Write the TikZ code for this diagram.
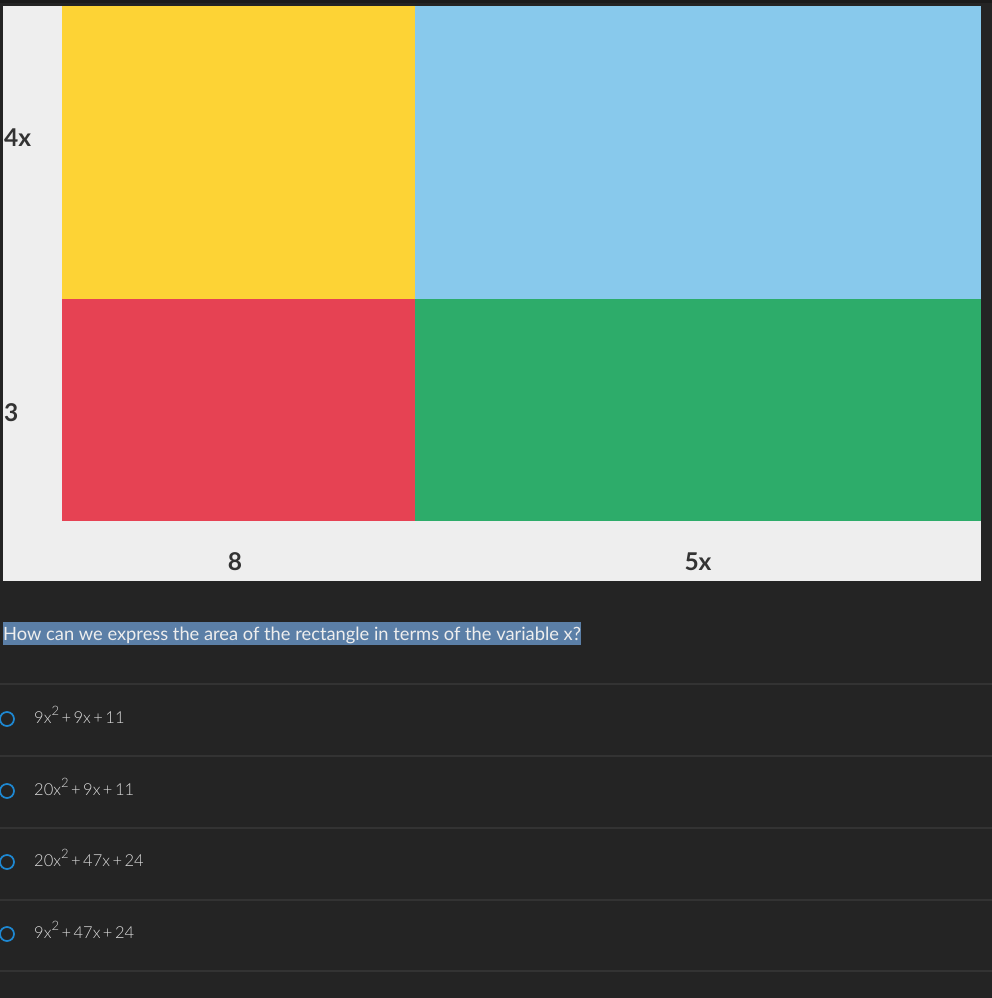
\documentclass[tikz,border=0pt]{standalone}
\usepackage{fontspec}
\setmainfont{Lato}
\newfontfamily\lightfont{Lato Light}
\definecolor{bg}{HTML}{242424}
\definecolor{topband}{HTML}{1B1B1B}
\definecolor{panel}{HTML}{EEEEEE}
\definecolor{cyellow}{HTML}{FDD335}
\definecolor{cblue}{HTML}{88C9EC}
\definecolor{cred}{HTML}{E64253}
\definecolor{cgreen}{HTML}{2DAC6A}
\definecolor{lbl}{HTML}{333333}
\definecolor{hl}{HTML}{5B7FA7}
\definecolor{sep}{HTML}{333333}
\definecolor{radio}{HTML}{1E88D2}
\definecolor{opt}{HTML}{DCDCDC}
\tikzset{
  dimlabel/.style={font=\fontsize{24.5}{26}\selectfont\bfseries, text=lbl, inner sep=0pt},
  optlabel/.style={font=\lightfont\fontsize{16.5}{18}\selectfont, text=opt, anchor=west, inner sep=0pt},
  radiobtn/.style={draw=radio, line width=1.7pt, circle, minimum size=14pt, inner sep=0pt},
  sepline/.style={draw=sep, line width=2pt},
}
\newcommand{\sq}{\raisebox{8pt}{\fontsize{13}{13}\selectfont 2}}
\newcommand{\pl}{\hspace{2.5pt}+\hspace{2.5pt}}
\begin{document}
\begin{tikzpicture}[x=1pt,y=-1pt]
\useasboundingbox (0,0) rectangle (992,998);
\fill[bg] (0,0) rectangle (992,998);
\fill[topband] (0,0) rectangle (992,3);
\fill[panel] (3,6) rectangle (981,581);
\fill[cyellow] (62,6) rectangle (415,299);
\fill[cblue] (415,6) rectangle (981,299);
\fill[cred] (62,299) rectangle (415,521);
\fill[cgreen] (415,299) rectangle (981,521);
\node[dimlabel, anchor=west] (l4x) at (4,138) {4x};
\node[dimlabel, anchor=west] (l3) at (4,413) {3};
\node[dimlabel] (l8) at (235,562) {8};
\node[dimlabel] (l5x) at (698,562) {5x};
\fill[hl] (3,622) rectangle (581,645);
\node[anchor=west, inner sep=0pt, text=panel, font=\fontsize{18.3}{20}\selectfont] (q) at (3,635) {How can we express the area of the rectangle in terms of the variable x?};
\foreach \y in {684,756,828,900,971} \draw[sepline] (0,\y) -- (992,\y);
\node[radiobtn] (r1) at (7,719) {};
\node[radiobtn] (r2) at (7,791) {};
\node[radiobtn] (r3) at (7,862) {};
\node[radiobtn] (r4) at (7,934) {};
\node[optlabel, anchor=base west] (o1) at (34,723) {9x\sq\pl9x\pl11};
\node[optlabel, anchor=base west] (o2) at (34,795) {20x\sq\pl9x\pl11};
\node[optlabel, anchor=base west] (o3) at (34,866) {20x\sq\pl47x\pl24};
\node[optlabel, anchor=base west] (o4) at (34,938) {9x\sq\pl47x\pl24};
\end{tikzpicture}
\end{document}
